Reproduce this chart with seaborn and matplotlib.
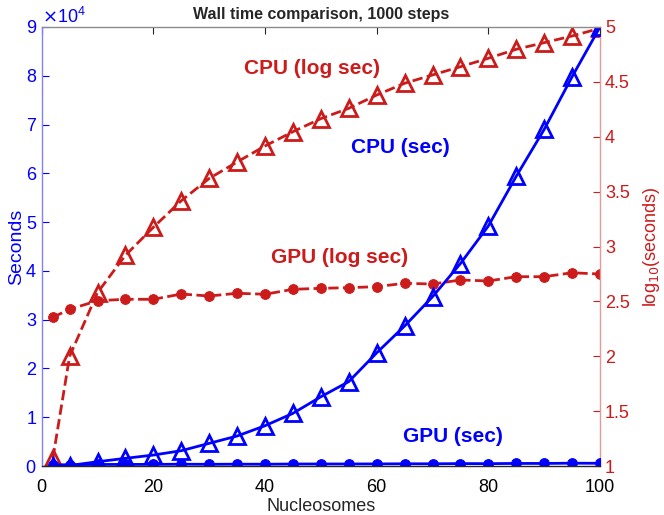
import matplotlib
matplotlib.use("Agg")
import matplotlib.pyplot as plt
import seaborn as sns
import pandas as pd

# nucleosome counts on the x axis
nucleosomes = [2, 5, 10, 15, 20, 25, 30, 35, 40, 45, 50,
               55, 60, 65, 70, 75, 80, 85, 90, 95, 100]

# wall time in seconds (left axis)
cpu_sec = [12, 100, 880, 1580, 2250, 3140, 4650, 6150, 8260, 10800, 14200,
           17300, 23200, 28700, 34700, 41500, 49200, 59400, 69000, 79800, 90000]
gpu_sec = [230, 270, 320, 330, 330, 370, 350, 380, 370, 410, 420,
           420, 430, 460, 455, 500, 485, 530, 530, 580, 560]

# log10 of wall time (right axis)
cpu_log = [1.07, 2.00, 2.58, 2.92, 3.175, 3.417, 3.62, 3.77, 3.916, 4.046, 4.165,
           4.259, 4.38, 4.487, 4.563, 4.638, 4.715, 4.797, 4.857, 4.918, 4.988]
gpu_log = [2.355, 2.428, 2.506, 2.519, 2.519, 2.567, 2.549, 2.574, 2.565, 2.61, 2.619,
           2.625, 2.634, 2.665, 2.658, 2.695, 2.686, 2.725, 2.725, 2.761, 2.749]

right_ticks = [1, 1.5, 2, 2.5, 3, 3.5, 4, 4.5, 5]

df = pd.DataFrame({"n": nucleosomes, "cpu_sec": cpu_sec, "gpu_sec": gpu_sec,
                   "cpu_log": cpu_log, "gpu_log": gpu_log})

sns.set_style("white")
plt.rcParams["font.family"] = ["Liberation Sans", "DejaVu Sans"]

BLUE = "#0000ff"
RED = "#cc1b1b"

fig = plt.figure(figsize=(6.64, 5.15), dpi=100)
ax = fig.add_axes([0.0628, 0.0951, 0.8408, 0.8525])
ax2 = ax.twinx()

# red (log) series on the right axis
sns.lineplot(data=df, x="n", y="cpu_log", ax=ax2, color=RED, linewidth=2,
             linestyle="--", marker="^", markersize=11, markerfacecolor="none",
             markeredgecolor=RED, markeredgewidth=2)
sns.lineplot(data=df, x="n", y="gpu_log", ax=ax2, color=RED, linewidth=2,
             linestyle="--", marker="o", markersize=7, markerfacecolor=RED,
             markeredgecolor=RED)

# blue (seconds) series on the left axis
sns.lineplot(data=df, x="n", y="cpu_sec", ax=ax, color=BLUE, linewidth=2,
             marker="^", markersize=11, markerfacecolor="none",
             markeredgecolor=BLUE, markeredgewidth=2)
sns.lineplot(data=df, x="n", y="gpu_sec", ax=ax, color=BLUE, linewidth=2,
             marker="o", markersize=7, markerfacecolor=BLUE, markeredgecolor=BLUE)

# blue lines drawn over the red ones
ax.set_zorder(ax2.get_zorder() + 1)
ax.patch.set_visible(False)

ax.set_xlim(0, 100)
ax.set_ylim(0, 90000)
ax2.set_ylim(1, 5)
ax.set_xticks([0, 20, 40, 60, 80, 100])
ax.set_yticks([i * 10000 for i in range(10)])
ax.ticklabel_format(axis="y", style="sci", scilimits=(4, 4), useMathText=True)
ax2.set_yticks(right_ticks)
ax2.set_yticklabels([f"{t:g}" for t in right_ticks])

ax.tick_params(axis="x", direction="in", top=True, bottom=True, length=5,
               colors="#262626", labelcolor="black", labelsize=13, pad=9)
ax.tick_params(axis="y", direction="in", left=True, length=5, colors=BLUE,
               labelsize=13)
ax2.tick_params(axis="y", direction="in", right=True, length=5, colors=RED,
                labelsize=13)
ax.yaxis.get_offset_text().set_color(BLUE)
ax.yaxis.get_offset_text().set_fontsize(13)

for a in (ax, ax2):
    for s in a.spines.values():
        s.set_visible(False)
ax.spines["bottom"].set_visible(True)
ax.spines["bottom"].set_color("#262626")
ax.spines["top"].set_visible(True)
ax.spines["top"].set_color("#8c8c8c")
ax.spines["left"].set_visible(True)
ax.spines["left"].set_color("#8080ff")
ax2.spines["right"].set_visible(True)
ax2.spines["right"].set_color("#e59999")
for s in ax.spines.values():
    s.set_linewidth(1)
ax2.spines["right"].set_linewidth(1)

ax.set_xlabel("Nucleosomes", fontsize=13, labelpad=2)
ax.set_ylabel("Seconds", fontsize=14, color=BLUE, labelpad=0)
ax2.set_ylabel("log$_{10}$(seconds)", fontsize=13, color=RED, labelpad=8)
ax.set_title("Wall time comparison, 1000 steps", fontsize=11.5,
             fontweight="bold", pad=6)

ax.text(48.4, 81500, "CPU (log sec)", color=RED, fontsize=15, fontweight="bold",
        ha="center", va="center")
ax.text(64.2, 65200, "CPU (sec)", color=BLUE, fontsize=15, fontweight="bold",
        ha="center", va="center")
ax.text(53.4, 42800, "GPU (log sec)", color=RED, fontsize=15, fontweight="bold",
        ha="center", va="center")
ax.text(73.7, 6100, "GPU (sec)", color=BLUE, fontsize=15, fontweight="bold",
        ha="center", va="center")

fig.savefig("out.png", dpi=100)
